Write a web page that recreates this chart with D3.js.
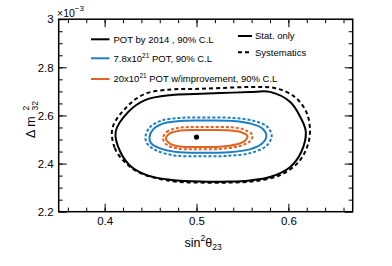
<!DOCTYPE html>
<html>
<head>
<meta charset="utf-8">
<script src="https://cdn.jsdelivr.net/npm/d3@7"></script>
<style>
  body { margin: 0; background: #fff; }
  text { font-family: "Liberation Sans", Arial, sans-serif; fill: #000; }
</style>
</head>
<body>
<div id="root"></div>
<script>
// axis ticks
const xTicks = [0.4, 0.5, 0.6];
const xTickLabels = ['0.4', '0.5', '0.6'];
const yTicks = [2.2, 2.4, 2.6, 2.8, 3.0];
const yTickLabels = ['2.2', '2.4', '2.6', '2.8', '3'];

// best fit point
const bestFit = [0.5, 2.51];

// contours, [sin2theta23, dm2 (1e-3 eV2)]
const blackStat = [
  [0.412, 2.532], [0.417, 2.449], [0.429, 2.387], [0.4475, 2.350], [0.473, 2.332],
  [0.504, 2.325], [0.536, 2.325], [0.558, 2.330], [0.580, 2.344], [0.602, 2.386],
  [0.614, 2.448], [0.619, 2.531], [0.614, 2.586], [0.602, 2.656], [0.580, 2.698],
  [0.558, 2.697], [0.526, 2.693], [0.498, 2.689], [0.473, 2.685], [0.444, 2.664],
  [0.426, 2.616]
];
const blackSyst = [
  [0.4085, 2.548], [0.411, 2.465], [0.422, 2.406], [0.4385, 2.361], [0.473, 2.327],
  [0.504, 2.321], [0.536, 2.321], [0.564, 2.327], [0.591, 2.352], [0.610, 2.402],
  [0.620, 2.465], [0.6235, 2.531], [0.620, 2.610], [0.607, 2.677], [0.585, 2.714],
  [0.558, 2.718], [0.526, 2.714], [0.498, 2.710], [0.473, 2.708], [0.444, 2.690],
  [0.425, 2.639]
];
const blueStat = [
  [0.4488, 2.510], [0.4530, 2.543], [0.4650, 2.568], [0.4850, 2.578], [0.5100, 2.579],
  [0.5400, 2.577], [0.5600, 2.565], [0.5720, 2.545], [0.5761, 2.515], [0.5710, 2.482],
  [0.5580, 2.459], [0.5350, 2.447], [0.5050, 2.4447], [0.4780, 2.448], [0.4590, 2.465],
  [0.4505, 2.485]
];
const blueSyst = [
  [0.4444, 2.510], [0.4490, 2.550], [0.4620, 2.579], [0.4850, 2.5905], [0.5100, 2.5914],
  [0.5400, 2.5895], [0.5630, 2.577], [0.5770, 2.553], [0.5818, 2.515], [0.5765, 2.475],
  [0.5610, 2.446], [0.5350, 2.4325], [0.5050, 2.4302], [0.4760, 2.434], [0.4560, 2.455],
  [0.4465, 2.482]
];
const orangeStat = [
  [0.4668, 2.504], [0.4705, 2.524], [0.4800, 2.5355], [0.4950, 2.5395], [0.5150, 2.5395],
  [0.5350, 2.538], [0.5480, 2.531], [0.5554, 2.515], [0.5530, 2.496], [0.5430, 2.479],
  [0.5250, 2.470], [0.5000, 2.4688], [0.4820, 2.4710], [0.4715, 2.482]
];
const orangeSyst = [
  [0.4635, 2.505], [0.4675, 2.531], [0.4780, 2.547], [0.4950, 2.552], [0.5150, 2.552],
  [0.5380, 2.5505], [0.5520, 2.541], [0.5609, 2.518], [0.5580, 2.492], [0.5460, 2.472],
  [0.5250, 2.461], [0.5000, 2.4593], [0.4800, 2.4625], [0.4680, 2.477]
];

const blue = '#1a7fc6';
const orange = '#e2621f';

const w = 392;
const h = 266;
const mLeft = 58.7, mRight = 352.7, mTop = 19.2, mBottom = 211.7;

const svg = d3.select('#root')
  .append('svg')
  .attr('width', w)
  .attr('height', h);

const x = d3.scaleLinear().domain([0.35, 0.67]).range([mLeft, mRight]);
const y = d3.scaleLinear().domain([2.2, 3.0]).range([mBottom, mTop]);

const xMinor = d3.range(0.36, 0.665, 0.02);
const yMinor = d3.range(2.25, 3.0, 0.05);

// axes, ticks pointing in
const fmtX = (d, i) => xTickLabels[i];
const fmtY = (d, i) => yTickLabels[i];

const addAxis = (axis, tx, ty) => {
  const g = svg.append('g').attr('transform', `translate(${tx},${ty})`).call(axis);
  g.select('.domain').remove();
  g.selectAll('line').attr('stroke', '#000').attr('stroke-width', 1);
  g.selectAll('text').attr('font-size', '11.5px').attr('font-family', '"Liberation Sans", Arial, sans-serif');
  return g;
};

addAxis(d3.axisBottom(x).tickValues(xMinor).tickSize(-4).tickFormat(''), 0, mBottom);
addAxis(d3.axisBottom(x).tickValues(xTicks).tickSize(-8).tickPadding(5).tickFormat(fmtX), 0, mBottom);
addAxis(d3.axisTop(x).tickValues(xMinor).tickSize(-4).tickFormat(''), 0, mTop);
addAxis(d3.axisTop(x).tickValues(xTicks).tickSize(-8).tickFormat(''), 0, mTop);
addAxis(d3.axisLeft(y).tickValues(yMinor).tickSize(-4).tickFormat(''), mLeft, 0);
addAxis(d3.axisLeft(y).tickValues(yTicks).tickSize(-8).tickPadding(5).tickFormat(fmtY), mLeft, 0);
addAxis(d3.axisRight(y).tickValues(yMinor).tickSize(-4).tickFormat(''), mRight, 0);
addAxis(d3.axisRight(y).tickValues(yTicks).tickSize(-8).tickFormat(''), mRight, 0);

svg.append('rect')
  .attr('x', mLeft).attr('y', mTop)
  .attr('width', mRight - mLeft).attr('height', mBottom - mTop)
  .attr('fill', 'none').attr('stroke', '#000').attr('stroke-width', 1.5);

// contours
const line = d3.line()
  .x(d => x(d[0]))
  .y(d => y(d[1]))
  .curve(d3.curveCatmullRomClosed.alpha(0.5));

const contours = [
  { pts: blackSyst, color: '#000', dash: '4,3' },
  { pts: blackStat, color: '#000', dash: null },
  { pts: blueSyst, color: blue, dash: '3,2' },
  { pts: blueStat, color: blue, dash: null },
  { pts: orangeSyst, color: orange, dash: '3,2' },
  { pts: orangeStat, color: orange, dash: null }
];

svg.selectAll('path.contour')
  .data(contours)
  .enter()
  .append('path')
  .attr('class', 'contour')
  .attr('d', d => line(d.pts))
  .attr('fill', 'none')
  .attr('stroke', d => d.color)
  .attr('stroke-width', 2)
  .attr('stroke-dasharray', d => d.dash);

svg.append('circle')
  .attr('cx', x(bestFit[0]))
  .attr('cy', y(bestFit[1]))
  .attr('r', 2.6)
  .attr('fill', '#000');

// exponent label
const expo = svg.append('text').attr('x', 57).attr('y', 16.5).attr('font-size', '10.5px');
expo.append('tspan').text('×10');
expo.append('tspan').attr('font-size', '8px').attr('dy', -6).text('−3');

// y title
const yt = svg.append('g').attr('transform', 'translate(35,116) rotate(-90)');
yt.append('text').attr('x', -22).attr('y', 0).attr('font-size', '12.5px').text('Δ m');
yt.append('text').attr('x', 5.5).attr('y', -6.5).attr('font-size', '8.5px').text('2');
yt.append('text').attr('x', 5.5).attr('y', 2.5).attr('font-size', '8.5px').text('32');

// x title
const xt = svg.append('text').attr('x', 184.5).attr('y', 246.5).attr('font-size', '12.5px');
xt.append('tspan').text('sin');
xt.append('tspan').attr('font-size', '8.5px').attr('dy', -6).text('2');
xt.append('tspan').attr('dy', 6).text('θ');
xt.append('tspan').attr('font-size', '8.5px').attr('dy', 3).text('23');

// legend left
const legItems = [
  { color: '#000', y: 39.3, parts: [['POT by 2014 , 90% C.L', 0]] },
  { color: blue, y: 58.3, parts: [['7.8x10', 0], ['21', -4], [' POT, 90% C.L', 4]] },
  { color: orange, y: 79, parts: [['20x10', 0], ['21', -4], [' POT w/improvement, 90% C.L', 4]] }
];
legItems.forEach(it => {
  svg.append('line')
    .attr('x1', 91).attr('x2', 109.5)
    .attr('y1', it.y).attr('y2', it.y)
    .attr('stroke', it.color).attr('stroke-width', 2);
  const t = svg.append('text').attr('x', 113.5).attr('y', it.y + 3.4).attr('font-size', '9.5px');
  it.parts.forEach(p => {
    t.append('tspan')
      .attr('dy', p[1])
      .attr('font-size', p[1] < 0 ? '6.5px' : '9.5px')
      .text(p[0]);
  });
});

// legend right
const legStyle = [
  { label: 'Stat. only', y: 36, dash: null },
  { label: 'Systematics', y: 52.3, dash: '4,3' }
];
legStyle.forEach(it => {
  svg.append('line')
    .attr('x1', 238).attr('x2', 252)
    .attr('y1', it.y).attr('y2', it.y)
    .attr('stroke', '#000').attr('stroke-width', 2)
    .attr('stroke-dasharray', it.dash);
  svg.append('text').attr('x', 255).attr('y', it.y + 3.4).attr('font-size', '9.5px').text(it.label);
});
</script>
</body>
</html>
